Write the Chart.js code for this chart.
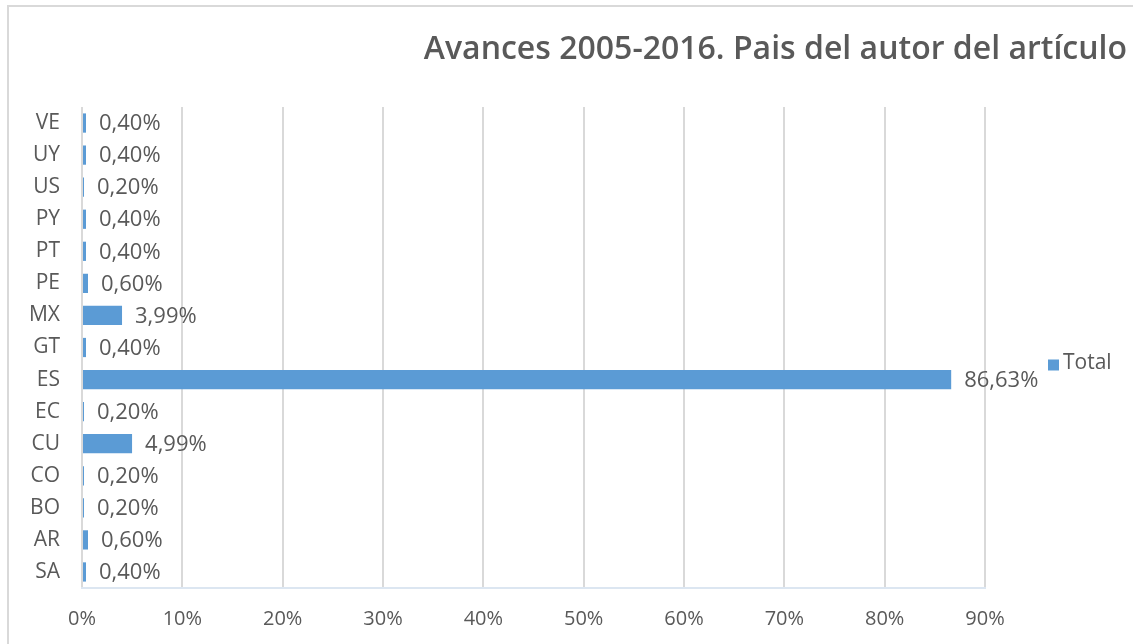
<!DOCTYPE html>
<html>
<head>
<meta charset="utf-8">
<script src="https://cdn.jsdelivr.net/npm/chart.js@4.4.1/dist/chart.umd.min.js"></script>
<style>
    html, body { margin: 0; padding: 0; background: #fff; overflow: hidden; }
    #frame {
        position: absolute; left: 7px; top: 5px; width: 1300px; height: 800px;
        border: 2px solid #d9d9d9; box-sizing: border-box;
    }
    #wrap { position: absolute; left: 0; top: 0; width: 1133px; height: 644px; }
</style>
</head>
<body>
<div id="frame"></div>
<div id="wrap"><canvas id="barChart" width="1133" height="644"></canvas></div>
<script>
const titleText = 'Avances 2005-2016. Pais del autor del artículo';
const countries = ['VE', 'UY', 'US', 'PY', 'PT', 'PE', 'MX', 'GT', 'ES', 'EC', 'CU', 'CO', 'BO', 'AR', 'SA'];
const totals = [0.40, 0.40, 0.20, 0.40, 0.40, 0.60, 3.99, 0.40, 86.63, 0.20, 4.99, 0.20, 0.20, 0.60, 0.40];
const xTicks = [0, 10, 20, 30, 40, 50, 60, 70, 80, 90];

const textColor = '#595959';
const barColor = '#5b9bd5';
const fontFamily = "'Open Sans', 'Noto Sans', sans-serif";

// title is pinned to the right edge of the whole chart, not the plot
const wideTitle = {
    id: 'wideTitle',
    afterDraw(chart) {
        const ctx = chart.ctx;
        ctx.save();
        ctx.font = `600 32px ${fontFamily}`;
        ctx.fillStyle = textColor;
        ctx.textAlign = 'right';
        ctx.textBaseline = 'middle';
        ctx.fillText(titleText, 1127, 50);
        ctx.restore();
    }
};

// value labels next to each bar, comma decimals like the original
const valueLabels = {
    id: 'valueLabels',
    afterDatasetsDraw(chart) {
        const ctx = chart.ctx;
        const meta = chart.getDatasetMeta(0);
        ctx.save();
        ctx.font = `22px ${fontFamily}`;
        ctx.fillStyle = textColor;
        ctx.textAlign = 'left';
        ctx.textBaseline = 'middle';
        meta.data.forEach((bar, i) => {
            const txt = totals[i].toFixed(2).replace('.', ',') + '%';
            ctx.fillText(txt, bar.x + 13, bar.y + 1);
        });
        ctx.restore();
    }
};

// legend sits far right, outside the plot
const sideLegend = {
    id: 'sideLegend',
    afterDraw(chart) {
        const ctx = chart.ctx;
        const ds = chart.data.datasets[0];
        const midY = chart.chartArea.top + (chart.chartArea.bottom - chart.chartArea.top) / 2 + 17;
        ctx.save();
        ctx.fillStyle = ds.backgroundColor;
        ctx.fillRect(1048, midY - 5, 11, 11);
        ctx.font = `21px ${fontFamily}`;
        ctx.fillStyle = textColor;
        ctx.textBaseline = 'middle';
        ctx.fillText(ds.label, 1063, midY - 1);
        ctx.restore();
    }
};

const ctx = document.getElementById('barChart').getContext('2d');
new Chart(ctx, {
    type: 'bar',
    data: {
        labels: countries,
        datasets: [{
            label: 'Total',
            data: totals,
            backgroundColor: barColor,
            barPercentage: 0.6,
            categoryPercentage: 1.0
        }]
    },
    options: {
        indexAxis: 'y',
        responsive: false,
        animation: false,
        layout: { padding: { left: 0, right: 148, top: 107, bottom: 0 } },
        plugins: {
            legend: { display: false },
            tooltip: { enabled: false },
            title: { display: false }
        },
        scales: {
            x: {
                min: 0,
                max: 90,
                afterBuildTicks(scale) { scale.ticks = xTicks.map(v => ({ value: v })); },
                afterFit(scale) { scale.height = 56; },
                grid: { color: '#d9d9d9', lineWidth: 2, drawTicks: false },
                border: { color: '#dce6f1', width: 2 },
                ticks: {
                    color: textColor,
                    padding: 19,
                    font: { family: fontFamily, size: 20 },
                    callback: v => v + '%'
                }
            },
            y: {
                afterFit(scale) { scale.width = 82; },
                grid: { display: false, drawTicks: false },
                border: { display: false },
                ticks: {
                    color: textColor,
                    padding: 22,
                    font: { family: fontFamily, size: 21 }
                }
            }
        }
    },
    plugins: [wideTitle, valueLabels, sideLegend]
});
</script>
</body>
</html>
